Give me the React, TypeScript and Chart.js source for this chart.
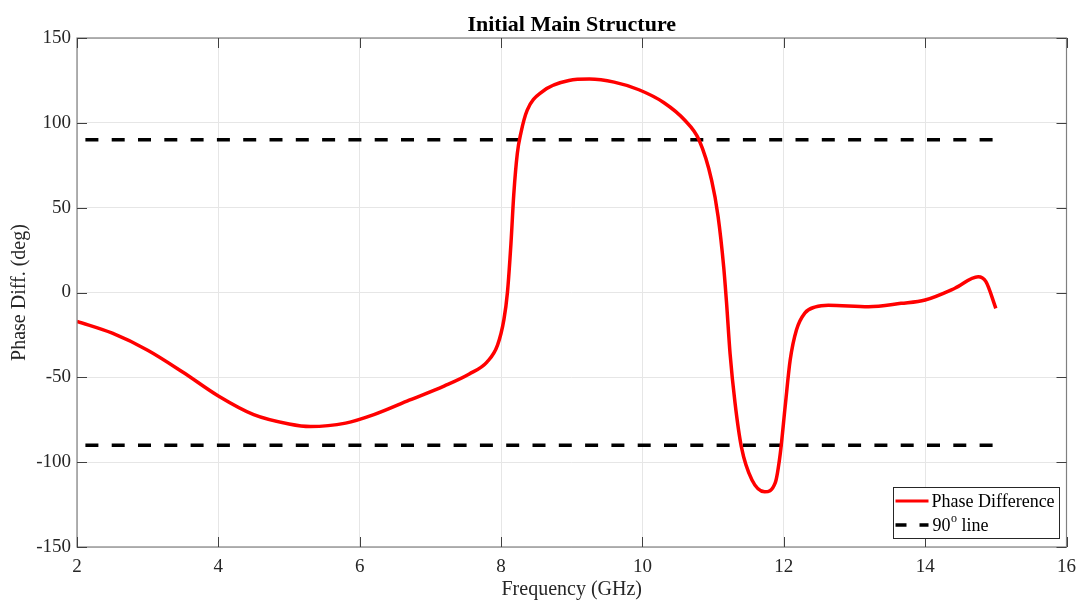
import React, { useEffect, useRef } from "react";
import { Chart, registerables } from "chart.js";

Chart.register(...registerables);

// ---- data ----
const freq = [
  2.0, 2.5, 3.0, 3.5, 4.0, 4.5, 5.0, 5.3, 5.8, 6.2, 6.7, 7.2, 7.55, 7.8, 7.95,
  8.04, 8.09, 8.14, 8.18, 8.23, 8.28, 8.37, 8.58, 8.96, 9.25, 9.6, 9.95, 10.3,
  10.6, 10.8, 10.98, 11.07, 11.15, 11.19, 11.24, 11.31, 11.4, 11.55, 11.73,
  11.88, 11.95, 12.02, 12.09, 12.18, 12.3, 12.45, 12.63, 13.2, 13.66, 14.0,
  14.42, 14.75, 14.86, 15.0,
];
const phaseDiff = [
  -17, -24, -34, -47, -61, -72, -77.5, -79, -77, -72, -63.5, -55, -48, -41, -31,
  -16, 0, 29, 58, 82, 94, 107.5, 118.3, 125, 125.8, 124, 119.5, 112,
  101.5, 90, 66, 45, 15, -6, -36, -65, -91, -110.5, -117.5,
  -112, -95, -67, -40, -22, -12, -8.5, -7.5, -8.4, -6.4, -4.4,
  2.5, 9.3, 6.4, -9.3,
];
const refFreq = [2, 15];
const refUpper = [90, 90];
const refLower = [-90, -90];
const xTicks = [2, 4, 6, 8, 10, 12, 14, 16];
const yTicks = [-150, -100, -50, 0, 50, 100, 150];
const titleText = "Initial Main Structure";
const xLabel = "Frequency (GHz)";
const yLabel = "Phase Diff. (deg)";
const legendPhase = "Phase Difference";
const legendRefMain = "90";
const legendRefSup = "o";
const legendRefTail = " line";

const SERIF = '"Liberation Serif", "Times New Roman", serif';
const AXIS_COLOR = "#262626";
const FRAME_COLOR = "#808080";

const framePlugin = {
  id: "matlabFrame",
  afterDraw(chart: any) {
    const { ctx, chartArea } = chart;
    const { left, right, top, bottom } = chartArea;
    const xs = chart.scales.x;
    const ys = chart.scales.y;
    ctx.save();
    // frame
    ctx.strokeStyle = FRAME_COLOR;
    ctx.lineWidth = 1.2;
    ctx.strokeRect(left, top, right - left, bottom - top);
    // inward ticks
    ctx.strokeStyle = "#404040";
    ctx.lineWidth = 1;
    const tl = 10;
    ctx.beginPath();
    xTicks.forEach((v) => {
      const px = Math.round(xs.getPixelForValue(v)) + 0.5;
      ctx.moveTo(px, bottom);
      ctx.lineTo(px, bottom - tl);
      ctx.moveTo(px, top);
      ctx.lineTo(px, top + tl);
    });
    yTicks.forEach((v) => {
      const py = Math.round(ys.getPixelForValue(v)) + 0.5;
      ctx.moveTo(left, py);
      ctx.lineTo(left + tl, py);
      ctx.moveTo(right, py);
      ctx.lineTo(right - tl, py);
    });
    ctx.stroke();

    // title
    ctx.fillStyle = "#000";
    ctx.font = `bold 22px ${SERIF}`;
    ctx.textAlign = "center";
    ctx.textBaseline = "alphabetic";
    ctx.fillText(titleText, (left + right) / 2, 31);

    // legend
    const bw = 166;
    const bh = 51;
    const bx = right - 8 - bw;
    const by = bottom - 9 - bh;
    ctx.fillStyle = "#fff";
    ctx.fillRect(bx, by, bw, bh);
    ctx.strokeStyle = AXIS_COLOR;
    ctx.lineWidth = 1;
    ctx.strokeRect(Math.round(bx) + 0.5, Math.round(by) + 0.5, bw, bh);

    const r1 = by + 14;
    const r2 = by + 38;
    ctx.lineCap = "butt";
    ctx.strokeStyle = "#ff0000";
    ctx.lineWidth = 3;
    ctx.beginPath();
    ctx.moveTo(bx + 3, r1);
    ctx.lineTo(bx + 36, r1);
    ctx.stroke();

    ctx.strokeStyle = "#000";
    ctx.lineWidth = 3.5;
    ctx.beginPath();
    ctx.moveTo(bx + 3, r2);
    ctx.lineTo(bx + 14, r2);
    ctx.moveTo(bx + 27, r2);
    ctx.lineTo(bx + 36, r2);
    ctx.stroke();

    ctx.fillStyle = "#000";
    ctx.textAlign = "left";
    ctx.textBaseline = "middle";
    ctx.font = `18px ${SERIF}`;
    ctx.fillText(legendPhase, bx + 39, r1 + 1);
    let tx = bx + 40;
    ctx.fillText(legendRefMain, tx, r2 + 1);
    tx += ctx.measureText(legendRefMain).width;
    ctx.font = `12px ${SERIF}`;
    ctx.fillText(legendRefSup, tx + 0.5, r2 - 6);
    tx += ctx.measureText(legendRefSup).width + 0.5;
    ctx.font = `18px ${SERIF}`;
    ctx.fillText(legendRefTail, tx, r2 + 1);
    ctx.restore();
  },
};

export default function App() {
  const ref = useRef<HTMLCanvasElement>(null);
  useEffect(() => {
    document.body.style.margin = "0";
    const tickFont = { family: SERIF, size: 19 };
    const labelFont = { family: SERIF, size: 20 };
    const chart = new Chart(ref.current as HTMLCanvasElement, {
      type: "line",
      data: {
        datasets: [
          {
            label: legendPhase,
            data: freq.map((x, i) => ({ x, y: phaseDiff[i] })),
            borderColor: "#ff0000",
            borderWidth: 3.5,
            pointRadius: 0,
            cubicInterpolationMode: "monotone",
            fill: false,
          },
          {
            label: "90 line",
            data: refFreq.map((x, i) => ({ x, y: refUpper[i] })),
            borderColor: "#000",
            borderWidth: 3.5,
            borderDash: [13, 13.3],
            borderDashOffset: 17.9,
            pointRadius: 0,
            fill: false,
          },
          {
            label: "-90 line",
            data: refFreq.map((x, i) => ({ x, y: refLower[i] })),
            borderColor: "#000",
            borderWidth: 3.5,
            borderDash: [13, 13.3],
            borderDashOffset: 17.9,
            pointRadius: 0,
            fill: false,
          },
        ],
      },
      options: {
        responsive: false,
        animation: false,
        devicePixelRatio: 1,
        layout: { padding: { top: 38, right: 16, left: 0, bottom: 0 } },
        plugins: {
          legend: { display: false },
          title: { display: false },
          tooltip: { enabled: false },
        },
        scales: {
          x: {
            type: "linear",
            min: 2,
            max: 16,
            afterBuildTicks: (s: any) => {
              s.ticks = xTicks.map((v) => ({ value: v }));
            },
            afterFit: (s: any) => {
              s.height = 59;
            },
            ticks: {
              font: tickFont,
              color: AXIS_COLOR,
              padding: 9,
              maxRotation: 0,
              autoSkip: false,
            },
            grid: { color: "#e6e6e6", drawTicks: false, lineWidth: 1 },
            border: { display: false },
            title: {
              display: true,
              text: xLabel,
              font: labelFont,
              color: AXIS_COLOR,
              padding: { top: 0, bottom: 4 },
            },
          },
          y: {
            type: "linear",
            min: -150,
            max: 150,
            afterBuildTicks: (s: any) => {
              s.ticks = yTicks.map((v) => ({ value: v }));
            },
            afterFit: (s: any) => {
              s.width = 77;
            },
            ticks: {
              font: tickFont,
              color: AXIS_COLOR,
              padding: 6,
              autoSkip: false,
            },
            grid: { color: "#e6e6e6", drawTicks: false, lineWidth: 1 },
            border: { display: false },
            title: {
              display: true,
              text: yLabel,
              font: labelFont,
              color: AXIS_COLOR,
              padding: { top: 8, bottom: 0 },
            },
          },
        },
      },
      plugins: [framePlugin],
    } as any);
    return () => chart.destroy();
  }, []);
  return (
    <div style={{ position: "absolute", left: 0, top: 0, width: 1085, height: 606, background: "#fff" }}>
      <canvas ref={ref} width={1085} height={606} style={{ display: "block" }} />
    </div>
  );
}
